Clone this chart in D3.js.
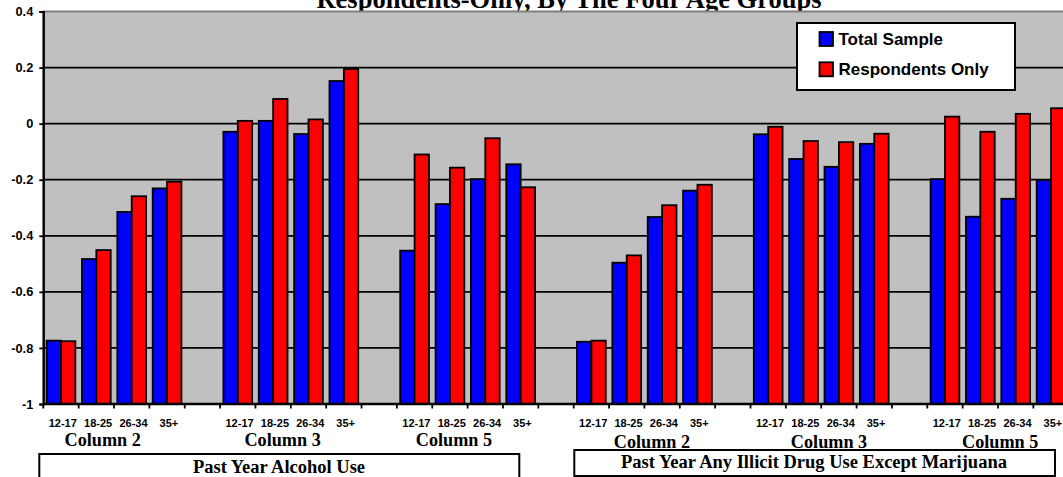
<!DOCTYPE html>
<html>
<head>
<meta charset="utf-8">
<script src="https://cdn.jsdelivr.net/npm/d3@7"></script>
<style>
  html, body { margin: 0; padding: 0; background: #fff; }
  svg { display: block; }
</style>
</head>
<body>
<svg id="chart" width="1063" height="477"></svg>
<script>
// ---------------- data ----------------
const chartTitle = "Respondents-Only, By The Four Age Groups";
const ageGroups = ["12-17", "18-25", "26-34", "35+"];
const columnLabels = ["Column 2", "Column 3", "Column 5", "Column 2", "Column 3", "Column 5"];
const panelTitles = ["Past Year Alcohol Use", "Past Year Any Illicit Drug Use Except Marijuana"];
const seriesNames = ["Total Sample", "Respondents Only"];
const totalSample = [
  -0.774, -0.483, -0.315, -0.231,
  -0.029,  0.010, -0.037,  0.152,
  -0.453, -0.287, -0.198, -0.145,
  -0.778, -0.496, -0.333, -0.239,
  -0.038, -0.126, -0.154, -0.072,
  -0.198, -0.332, -0.268, -0.201
];
const respondentsOnly = [
  -0.776, -0.451, -0.259, -0.207,
   0.010,  0.088,  0.015,  0.195,
  -0.110, -0.157, -0.052, -0.227,
  -0.774, -0.470, -0.291, -0.218,
  -0.011, -0.062, -0.066, -0.036,
   0.025, -0.029,  0.035,  0.055
];
const yTicks = [0.4, 0.2, 0, -0.2, -0.4, -0.6, -0.8, -1];
const yTickLabels = ["0.4", "0.2", "0", "-0.2", "-0.4", "-0.6", "-0.8", "-1"];

// ---------------- layout ----------------
const seriesColors = ["#0000FF", "#FF0000"];
const plotLeft = 43.3, plotTop = 11.5, plotBottom = 404;
const slotW = 35.36;
const columnLabelShift = [-11.3, -8.2, -13.7, 7.5, 7.8, 2.2];

// slots: 4 categories per group, one empty slot between groups
const slots = [];
columnLabels.forEach((c, g) => {
  ageGroups.forEach((a, i) => slots.push(`g${g}-${i}`));
  if (g < columnLabels.length - 1) slots.push(`gap${g}`);
});
const plotRight = plotLeft + slots.length * slotW;

const svg = d3.select("#chart");

const x = d3.scaleBand().domain(slots).range([plotLeft, plotRight]).padding(0);
const xs = d3.scaleBand().domain(seriesNames).range([3.3, slotW - 3.3]).padding(0);
const y = d3.scaleLinear().domain([-1, 0.4]).range([plotBottom, plotTop]);

// title (drawn first so plot covers descenders; the reference crops it at the top)
svg.append("text")
  .attr("x", 569).attr("y", 7.5)
  .attr("text-anchor", "middle")
  .attr("font-family", "'Liberation Serif', 'Times New Roman', serif")
  .attr("font-weight", "bold")
  .attr("font-size", 26.5)
  .text(chartTitle);

// plot area
svg.append("rect")
  .attr("x", plotLeft).attr("y", plotTop)
  .attr("width", plotRight - plotLeft).attr("height", plotBottom - plotTop)
  .attr("fill", "#C0C0C0")
  .attr("stroke", "#808080").attr("stroke-width", 2);

// gridlines
svg.append("g").selectAll("line")
  .data(yTicks.filter(v => v < 0.4 && v > -1))
  .join("line")
  .attr("x1", plotLeft).attr("x2", plotRight)
  .attr("y1", d => y(d)).attr("y2", d => y(d))
  .attr("stroke", "#000").attr("stroke-width", 1.8);

// bars
const barData = [];
columnLabels.forEach((c, g) => {
  ageGroups.forEach((a, i) => {
    const idx = g * 4 + i;
    barData.push({ slot: `g${g}-${i}`, series: seriesNames[0], value: totalSample[idx], color: seriesColors[0] });
    barData.push({ slot: `g${g}-${i}`, series: seriesNames[1], value: respondentsOnly[idx], color: seriesColors[1] });
  });
});
svg.append("g").selectAll("rect")
  .data(barData)
  .join("rect")
  .attr("x", d => x(d.slot) + xs(d.series))
  .attr("width", xs.bandwidth())
  .attr("y", d => y(d.value))
  .attr("height", d => y(-1) - y(d.value))
  .attr("fill", d => d.color)
  .attr("stroke", "#000").attr("stroke-width", 1.8);

// y axis
const yAxis = d3.axisLeft(y).tickValues(yTicks).tickSize(4).tickPadding(6)
  .tickFormat((d, i) => yTickLabels[i]);
const yg = svg.append("g").attr("transform", `translate(${plotLeft},0)`).call(yAxis);
yg.select(".domain").attr("stroke", "#000").attr("stroke-width", 2.2);
yg.selectAll(".tick line").attr("stroke", "#000").attr("stroke-width", 1.8);
yg.selectAll(".tick text")
  .attr("font-family", "'Liberation Sans', Arial, sans-serif")
  .attr("font-weight", "bold").attr("font-size", 12.8).attr("fill", "#000");

// x axis line and ticks at slot boundaries
svg.append("line")
  .attr("x1", plotLeft).attr("x2", plotRight)
  .attr("y1", y(-1)).attr("y2", y(-1))
  .attr("stroke", "#000").attr("stroke-width", 2.4);
svg.append("g").selectAll("line")
  .data(d3.range(slots.length + 1))
  .join("line")
  .attr("x1", i => plotLeft + i * x.step()).attr("x2", i => plotLeft + i * x.step())
  .attr("y1", y(-1)).attr("y2", y(-1) + 4.5)
  .attr("stroke", "#000").attr("stroke-width", 1.8);

// category labels
const catLabels = [];
columnLabels.forEach((c, g) => ageGroups.forEach((a, i) => catLabels.push({ slot: `g${g}-${i}`, text: a })));
svg.append("g").selectAll("text")
  .data(catLabels)
  .join("text")
  .attr("x", d => x(d.slot) + x.bandwidth() / 2 + 1.8)
  .attr("y", 427)
  .attr("text-anchor", "middle")
  .attr("font-family", "'Liberation Sans', Arial, sans-serif")
  .attr("font-weight", "bold").attr("font-size", 11)
  .text(d => d.text);

// group labels
svg.append("g").selectAll("text")
  .data(columnLabels)
  .join("text")
  .attr("x", (d, g) => (x(`g${g}-0`) + x(`g${g}-3`) + x.bandwidth()) / 2 + columnLabelShift[g])
  .attr("y", (d, g) => g < 3 ? 445.8 : 447.5)
  .attr("text-anchor", "middle")
  .attr("font-family", "'Liberation Serif', 'Times New Roman', serif")
  .attr("font-weight", "bold").attr("font-size", 18.2)
  .text(d => d);

// panel title boxes
const panelBoxes = [
  { x0: 39.3, x1: 519.3, y0: 454, y1: 482, ty: 473, tx: 279 },
  { x0: 574.3, x1: 1055, y0: 450, y1: 476, ty: 467.5, tx: 814 }
];
panelBoxes.forEach((b, i) => {
  svg.append("rect")
    .attr("x", b.x0).attr("y", b.y0)
    .attr("width", b.x1 - b.x0).attr("height", b.y1 - b.y0)
    .attr("fill", "#fff").attr("stroke", "#000").attr("stroke-width", 2);
  svg.append("text")
    .attr("x", b.tx).attr("y", b.ty)
    .attr("text-anchor", "middle")
    .attr("font-family", "'Liberation Serif', 'Times New Roman', serif")
    .attr("font-weight", "bold").attr("font-size", 18.5)
    .text(panelTitles[i]);
});

// legend
const lg = svg.append("g");
lg.append("rect")
  .attr("x", 797).attr("y", 23).attr("width", 218).attr("height", 67)
  .attr("fill", "#fff").attr("stroke", "#000").attr("stroke-width", 2);
seriesNames.forEach((s, i) => {
  const cy = 39 + i * 30.3;
  lg.append("rect")
    .attr("x", 819.5).attr("y", cy - 7).attr("width", 13.5).attr("height", 14)
    .attr("fill", seriesColors[i]).attr("stroke", "#000").attr("stroke-width", 1.8);
  lg.append("text")
    .attr("x", 838.5).attr("y", cy + 6)
    .attr("font-family", "'Liberation Sans', Arial, sans-serif")
    .attr("font-weight", "bold").attr("font-size", 17)
    .text(s);
});
</script>
</body>
</html>
